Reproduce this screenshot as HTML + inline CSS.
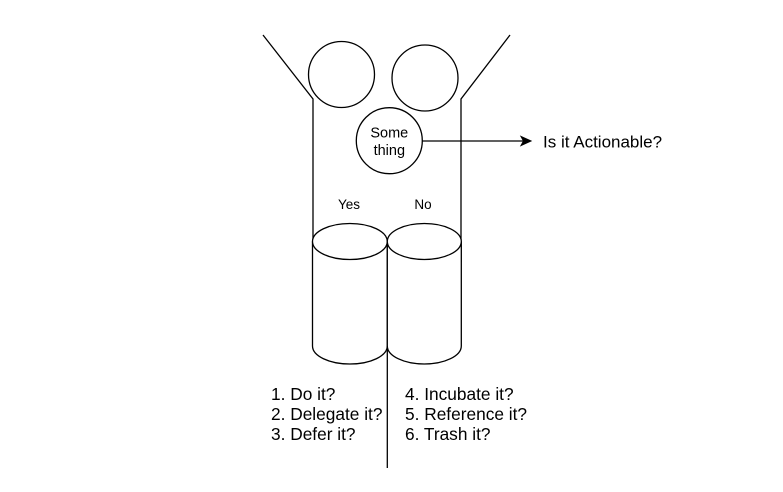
<!DOCTYPE html>
<html><head><meta charset="utf-8"><style>
html,body{margin:0;padding:0;background:#fff;}
svg{display:block;}
text{font-family:"Liberation Sans",Arial,sans-serif;fill:#000;}
</style></head><body>
<svg width="783" height="492" viewBox="0 0 783 492" xmlns="http://www.w3.org/2000/svg">
<g fill="none" stroke="#000" stroke-width="1.3">
  <!-- funnel -->
  <polyline points="263,35 313,99 313,242"/>
  <polyline points="510,35 461,99 461,262"/>
  <!-- circles -->
  <circle cx="341.5" cy="74.5" r="33"/>
  <circle cx="425" cy="78" r="33"/>
  <!-- cylinders -->
  <path d="M312.5,241.5 L312.5,346 A37.4,18 0 0 0 387.3,346 L387.3,241.5" fill="#fff"/>
  <ellipse cx="349.9" cy="241.5" rx="37.4" ry="18" fill="#fff"/>
  <path d="M387.3,241.5 L387.3,346 A37,18 0 0 0 461.3,346 L461.3,241.5" fill="#fff"/>
  <ellipse cx="424.3" cy="241.5" rx="37" ry="18" fill="#fff"/>
  <line x1="387.3" y1="346" x2="387.3" y2="468"/>
  <!-- arrow -->
  <line x1="422.5" y1="141" x2="524" y2="141"/>
  <circle cx="389.3" cy="140.7" r="33" fill="#fff"/>
</g>
<path d="M531,141 L521,136.5 L523.5,141 L521,145.5 Z" fill="#000" stroke="#000" stroke-width="1"/>
<text x="389.3" y="137.5" font-size="14.5" text-anchor="middle">Some</text>
<text x="389.3" y="155" font-size="14.5" text-anchor="middle">thing</text>
<text x="349" y="209" font-size="13.5" text-anchor="middle">Yes</text>
<text x="423" y="209" font-size="13.5" text-anchor="middle">No</text>
<text x="543" y="147.5" font-size="17">Is it Actionable?</text>
<g font-size="17.3">
  <text x="271" y="400">1. Do it?</text>
  <text x="271" y="420">2. Delegate it?</text>
  <text x="271" y="440">3. Defer it?</text>
  <text x="405" y="400">4. Incubate it?</text>
  <text x="405" y="420">5. Reference it?</text>
  <text x="405" y="440">6. Trash it?</text>
</g>
</svg>
</body></html>
